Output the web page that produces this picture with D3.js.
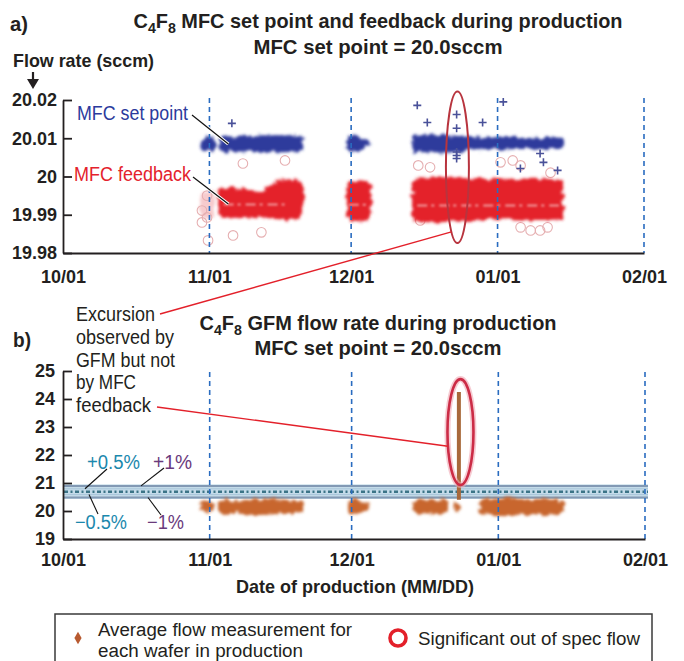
<!DOCTYPE html>
<html>
<head>
<meta charset="utf-8">
<script src="https://cdn.jsdelivr.net/npm/d3@7"></script>
<style>
  body { margin: 0; background: #fff; }
  svg { display: block; }
</style>
</head>
<body>
<div id="chart"></div>
<script>
// ---- data ----
var xTickDates = ["2010-10-01", "2010-11-01", "2010-12-01", "2011-01-01", "2011-02-01"];
var monthLines = ["2010-11-01", "2010-12-01", "2011-01-01", "2011-02-01"];
var topYTicks = [19.98, 19.99, 20, 20.01, 20.02];
var bottomYTicks = [19, 20, 21, 22, 23, 24, 25];

// MFC set point clouds: [date, low, high]
var setPointRuns = [
  [["2010-10-30 00", 20.0082, 20.0092], ["2010-10-30 12", 20.0068, 20.0103], ["2010-10-31 12", 20.0065, 20.0106],
   ["2010-11-01 12", 20.0067, 20.0104], ["2010-11-02 04", 20.0080, 20.0094]],
  [["2010-11-02 20", 20.0080, 20.0094], ["2010-11-03 12", 20.0066, 20.0104], ["2010-11-06 00", 20.0065, 20.0105],
   ["2010-11-09 00", 20.0066, 20.0104], ["2010-11-12 00", 20.0064, 20.0107], ["2010-11-15 00", 20.0063, 20.0108],
   ["2010-11-18 00", 20.0064, 20.0108], ["2010-11-20 06", 20.0067, 20.0105], ["2010-11-20 20", 20.0080, 20.0096]],
  [["2010-11-30 02", 20.0078, 20.0094], ["2010-11-30 16", 20.0063, 20.0107], ["2010-12-01 18", 20.0063, 20.0108],
   ["2010-12-03 00", 20.0069, 20.0102], ["2010-12-04 06", 20.0078, 20.0095], ["2010-12-05 08", 20.0084, 20.0089]],
  [["2010-12-13 22", 20.0078, 20.0096], ["2010-12-14 14", 20.0064, 20.0109], ["2010-12-18 00", 20.0063, 20.0109],
   ["2010-12-22 00", 20.0063, 20.0107], ["2010-12-26 00", 20.0067, 20.0105], ["2010-12-30 00", 20.0069, 20.0103],
   ["2011-01-03 00", 20.0071, 20.0102], ["2011-01-07 00", 20.0072, 20.0101], ["2011-01-11 00", 20.0072, 20.0101],
   ["2011-01-14 10", 20.0074, 20.0099], ["2011-01-14 22", 20.0082, 20.0091]]
];
// MFC feedback clouds: [date, low, high]
var feedbackRuns = [
  [["2010-11-02 20", 19.9915, 19.9955], ["2010-11-03 12", 19.9893, 19.9968], ["2010-11-06 00", 19.9890, 19.9972],
   ["2010-11-09 00", 19.9892, 19.9966], ["2010-11-11 12", 19.9894, 19.9962], ["2010-11-14 00", 19.9890, 19.9982],
   ["2010-11-17 00", 19.9887, 19.9990], ["2010-11-19 12", 19.9888, 19.9990], ["2010-11-20 20", 19.9905, 19.9975]],
  [["2010-11-30 02", 19.9895, 19.9975], ["2010-11-30 16", 19.9882, 19.9988], ["2010-12-02 12", 19.9882, 19.9990],
   ["2010-12-04 06", 19.9886, 19.9988], ["2010-12-05 08", 19.9915, 19.9975]],
  [["2010-12-13 22", 19.9900, 19.9980], ["2010-12-14 14", 19.9884, 19.9994], ["2010-12-18 00", 19.9880, 19.9998],
   ["2010-12-22 00", 19.9882, 19.9998], ["2010-12-26 00", 19.9884, 19.9995], ["2010-12-30 00", 19.9886, 19.9993],
   ["2011-01-03 00", 19.9888, 19.9992], ["2011-01-07 00", 19.9887, 19.9994], ["2011-01-11 00", 19.9886, 19.9994],
   ["2011-01-14 10", 19.9888, 19.9990], ["2011-01-14 22", 19.9905, 19.9975]]
];
var feedbackFaintRuns = [
  [["2010-10-30 00", 19.9905, 19.9945], ["2010-10-31 00", 19.9890, 19.9965], ["2010-11-02 00", 19.9892, 19.9960]]
];
// lighter seams inside the feedback clouds: [start, end, value]
var feedbackSeams = [
  ["2010-11-04 00", "2010-11-17 00", 19.9927],
  ["2010-11-30 12", "2010-12-04 18", 19.9926],
  ["2010-12-15 00", "2011-01-14 00", 19.9924]
];
var setPointOutliers = [
  ["2010-11-05 18", 20.0139], ["2010-12-15 00", 20.0186], ["2010-12-17 03", 20.0141],
  ["2010-12-23 08", 20.0162], ["2010-12-23 08", 20.0126], ["2010-12-28 20", 20.0141],
  ["2011-01-02 05", 20.0195], ["2011-01-05 20", 20.0021], ["2011-01-10 00", 20.0060],
  ["2011-01-10 17", 20.0037], ["2011-01-13 17", 20.0016],
  ["2010-12-23 08", 20.0064], ["2010-12-23 08", 20.0055], ["2010-12-23 08", 20.0047]
];
var feedbackOutliers = [
  ["2010-10-31 12", 19.9950], ["2010-10-30 10", 19.9911], ["2010-10-31 12", 19.9893],
  ["2010-10-30 10", 19.9880], ["2010-10-31 17", 19.9833], ["2010-11-08 02", 20.0034],
  ["2010-11-17 00", 20.0042], ["2010-11-06 00", 19.9846], ["2010-11-12 00", 19.9854],
  ["2010-12-15 05", 20.0029], ["2010-12-17 17", 20.0024], ["2011-01-01 15", 20.0037],
  ["2011-01-04 05", 20.0042], ["2011-01-05 21", 20.0029], ["2011-01-12 05", 20.0010],
  ["2011-01-05 21", 19.9867], ["2011-01-08 00", 19.9859], ["2011-01-10 00", 19.9859],
  ["2011-01-11 14", 19.9867], ["2010-12-15 15", 19.9885]
];
var excursionTop = ["2010-12-23 12", 19.9826, 20.0222];

// GFM average flow per wafer clouds: [date, low, high]
var gfmRuns = [
  [["2010-10-30 00", 20.05, 20.22], ["2010-10-31 00", 19.96, 20.37], ["2010-11-01 12", 20.00, 20.32], ["2010-11-02 00", 20.10, 20.18]],
  [["2010-11-02 18", 20.06, 20.27], ["2010-11-03 12", 19.92, 20.40], ["2010-11-07 00", 19.94, 20.37], ["2010-11-10 00", 19.90, 20.41],
   ["2010-11-13 00", 19.86, 20.43], ["2010-11-16 00", 19.89, 20.41], ["2010-11-19 00", 19.90, 20.39], ["2010-11-20 18", 20.03, 20.27]],
  [["2010-11-30 06", 19.98, 20.34], ["2010-12-01 12", 19.90, 20.43], ["2010-12-03 00", 19.95, 20.35], ["2010-12-04 12", 20.06, 20.24]],
  [["2010-12-14 00", 20.00, 20.30], ["2010-12-15 00", 19.89, 20.41], ["2010-12-18 00", 19.92, 20.39], ["2010-12-20 12", 19.91, 20.41],
   ["2010-12-21 12", 20.03, 20.27]],
  [["2010-12-22 12", 20.02, 20.22], ["2010-12-23 00", 19.96, 20.32], ["2010-12-23 20", 20.05, 20.20]],
  [["2010-12-28 00", 19.98, 20.34], ["2010-12-29 00", 19.87, 20.43], ["2011-01-02 00", 19.85, 20.45], ["2011-01-06 00", 19.87, 20.43],
   ["2011-01-10 00", 19.85, 20.43], ["2011-01-14 00", 19.89, 20.39], ["2011-01-15 00", 20.03, 20.27]]
];
var gfmSpike = ["2010-12-23 16", 20.40, 24.25];
var excursionBottom = ["2010-12-24 00", 20.93, 24.71];
var specCenter = 20.69;
var specLimits = [0.5, 1]; // percent

// ---- setup ----
var SANS = "'Liberation Sans Narrow','Arial Narrow','Liberation Sans',Arial,sans-serif";
var INK = "#231f20";
var parse = d3.timeParse("%Y-%m-%d %H");
function day(s) { return parse(s.length > 10 ? s : s + " 00"); }

var width = 684, height = 661;
var svg = d3.select("#chart").append("svg")
    .attr("width", width).attr("height", height)
    .style("font-family", SANS);
svg.append("rect").attr("width", width).attr("height", height).attr("fill", "#fff");

var defs = svg.append("defs");
function filter(id, sd, rough) {
  var f = defs.append("filter").attr("id", id).attr("filterUnits", "userSpaceOnUse")
      .attr("x", 0).attr("y", 0).attr("width", width).attr("height", height);
  if (rough) {
    f.append("feTurbulence").attr("type", "fractalNoise").attr("baseFrequency", 0.17)
        .attr("numOctaves", 2).attr("seed", 4).attr("result", "noise");
    f.append("feDisplacementMap").attr("in", "SourceGraphic").attr("in2", "noise")
        .attr("scale", rough).attr("xChannelSelector", "R").attr("yChannelSelector", "G").attr("result", "d");
    f.append("feGaussianBlur").attr("in", "d").attr("stdDeviation", sd);
  } else {
    f.append("feGaussianBlur").attr("stdDeviation", sd);
  }
}
filter("cloud", 1.4, 8);
filter("soft", 0.7);
filter("soft2", 1.1);

function cloud(x, y) {
  return d3.area().x(function(d) { return x(day(d[0])); })
      .y0(function(d) { return y(d[1]); }).y1(function(d) { return y(d[2]); })
      .curve(d3.curveMonotoneX);
}

function chemTitle(y, rest, len) {
  var t = svg.append("text").attr("x", 378).attr("y", y).attr("text-anchor", "middle")
      .attr("font-size", 21).attr("font-weight", "bold").attr("fill", INK)
      .attr("textLength", len).attr("lengthAdjust", "spacingAndGlyphs");
  t.append("tspan").text("C");
  t.append("tspan").attr("dy", 5).attr("font-size", 15).text("4");
  t.append("tspan").attr("dy", -5).text("F");
  t.append("tspan").attr("dy", 5).attr("font-size", 15).text("8");
  t.append("tspan").attr("dy", -5).text(rest);
}
function text(x, y, str, size, weight, color, len, anchor) {
  var t = svg.append("text").attr("x", x).attr("y", y).attr("font-size", size)
      .attr("font-weight", weight).attr("fill", color).attr("text-anchor", anchor || "start").text(str);
  if (len) t.attr("textLength", len).attr("lengthAdjust", "spacingAndGlyphs");
  return t;
}
function styleAxis(g, size) {
  g.selectAll("path, line").attr("stroke", INK).attr("stroke-width", 1.8);
  g.selectAll("text").attr("font-family", "'Liberation Sans',Arial,sans-serif")
      .attr("font-size", size).attr("font-weight", "bold").attr("fill", INK);
}
function plus(g, x, y, pts, color) {
  g.selectAll(null).data(pts).enter().append("path")
      .attr("d", function(d) {
        var cx = x(day(d[0])), cy = y(d[1]);
        return "M" + (cx - 4) + "," + cy + "H" + (cx + 4) + "M" + cx + "," + (cy - 4) + "V" + (cy + 4);
      })
      .attr("stroke", color).attr("stroke-width", 1.6).attr("fill", "none");
}

// ================= panel a =================
var xTop = d3.scaleTime().domain([day(xTickDates[0]), day(xTickDates[4])]).range([63, 644]);
var yTop = d3.scaleLinear().domain([19.98, 20.02]).range([253, 100]);

text(10, 31, "a)", 21, "bold", INK, 18);
chemTitle(28, " MFC set point and feedback during production", 489);
text(378, 54, "MFC set point = 20.0sccm", 21, "bold", INK, 249, "middle");
text(13, 67, "Flow rate (sccm)", 19, "bold", INK, 141);
svg.append("line").attr("x1", 33).attr("x2", 33).attr("y1", 72).attr("y2", 81)
    .attr("stroke", INK).attr("stroke-width", 2.2);
svg.append("path").attr("d", "M27,79L39,79L33,89Z").attr("fill", INK);

var gA = svg.append("g");
// faint early feedback
gA.append("g").attr("filter", "url(#cloud)").selectAll("path").data(feedbackFaintRuns).enter()
    .append("path").attr("d", cloud(xTop, yTop)).attr("fill", "#f0a0a4").attr("opacity", 0.55);
// outlier circles
gA.append("g").attr("filter", "url(#soft)").selectAll("circle").data(feedbackOutliers).enter()
    .append("circle").attr("cx", function(d) { return xTop(day(d[0])); }).attr("cy", function(d) { return yTop(d[1]); })
    .attr("r", 4.8).attr("fill", "none").attr("stroke", "#e6b0b2").attr("stroke-width", 1.1);
// feedback clouds
gA.append("g").attr("filter", "url(#cloud)").selectAll("path").data(feedbackRuns).enter()
    .append("path").attr("d", cloud(xTop, yTop)).attr("fill", "#e4222c");
gA.append("g").attr("filter", "url(#soft2)").selectAll("line").data(feedbackSeams).enter()
    .append("line").attr("x1", function(d) { return xTop(day(d[0])); }).attr("x2", function(d) { return xTop(day(d[1])); })
    .attr("y1", function(d) { return yTop(d[2]); }).attr("y2", function(d) { return yTop(d[2]); })
    .attr("stroke", "#f6b8ba").attr("stroke-width", 2).attr("stroke-dasharray", "10,4,3,5").attr("opacity", 0.8);
// set point clouds
gA.append("g").attr("filter", "url(#cloud)").selectAll("path").data(setPointRuns).enter()
    .append("path").attr("d", cloud(xTop, yTop)).attr("fill", "#2f3a9c");
var plusG = gA.append("g").attr("filter", "url(#soft)");
plus(plusG, xTop, yTop, setPointOutliers, "#4a5199");

// month dashed lines
gA.selectAll("line.month").data(monthLines).enter().append("line").attr("class", "month")
    .attr("x1", function(d) { return xTop(day(d)); }).attr("x2", function(d) { return xTop(day(d)); })
    .attr("y1", 98).attr("y2", 253)
    .attr("stroke", "#2a6cc0").attr("stroke-width", 1.6).attr("stroke-dasharray", "5,4");

// excursion ellipse (panel a)
var exA = { cx: xTop(day(excursionTop[0])), cy: (yTop(excursionTop[1]) + yTop(excursionTop[2])) / 2,
            ry: (yTop(excursionTop[1]) - yTop(excursionTop[2])) / 2, rx: 11.5 };
gA.append("ellipse").attr("cx", exA.cx).attr("cy", exA.cy).attr("rx", exA.rx).attr("ry", exA.ry)
    .attr("fill", "none").attr("stroke", "#b8343e").attr("stroke-width", 2);

// axes a
var axA = svg.append("g").attr("transform", "translate(63,0)")
    .call(d3.axisLeft(yTop).tickValues(topYTicks).tickSize(-9).tickSizeOuter(0).tickPadding(6)
      .tickFormat(function(d) { return d === 20 ? "20" : d3.format(".2f")(d); }));
styleAxis(axA, 18);
var axAx = svg.append("g").attr("transform", "translate(0,253)")
    .call(d3.axisBottom(xTop).tickValues(xTickDates.map(day)).tickSize(0).tickPadding(17)
      .tickFormat(d3.timeFormat("%m/%d")));
styleAxis(axAx, 18);

// series labels
text(77, 120, "MFC set point", 20, "normal", "#2b3a9c", 111);
text(74, 181, "MFC feedback", 20, "normal", "#e4222c", 117);
function leader(x1, y1, x2, y2) {
  svg.append("line").attr("x1", x1).attr("y1", y1).attr("x2", x2).attr("y2", y2)
      .attr("stroke", "#fff").attr("stroke-width", 3.2);
  svg.append("line").attr("x1", x1).attr("y1", y1).attr("x2", x2).attr("y2", y2)
      .attr("stroke", "#111").attr("stroke-width", 1.2);
}
leader(192, 115, xTop(day("2010-11-05 00")), yTop(20.0085));
leader(193, 177, xTop(day("2010-11-05 00")), yTop(19.9928));

// ================= panel b =================
var xBot = d3.scaleTime().domain([day(xTickDates[0]), day(xTickDates[4])]).range([63, 645]);
var yBot = d3.scaleLinear().domain([19, 25]).range([539, 371]);

text(13, 347, "b)", 21, "bold", INK, 18);
chemTitle(330, " GFM flow rate during production", 357);
text(378, 355, "MFC set point = 20.0sccm", 21, "bold", INK, 247, "middle");

var gB = svg.append("g");
// spec band
var hi1 = specCenter * (1 + specLimits[1] / 100), lo1 = specCenter * (1 - specLimits[1] / 100);
var hi05 = specCenter * (1 + specLimits[0] / 100), lo05 = specCenter * (1 - specLimits[0] / 100);
gB.append("rect").attr("x", xBot.range()[0]).attr("width", xBot.range()[1] - xBot.range()[0] + 3)
    .attr("y", yBot(hi1) - 1.5).attr("height", yBot(lo1) - yBot(hi1) + 3).attr("fill", "#c4dbe9");
[hi1, lo1].forEach(function(v) {
  gB.append("line").attr("x1", 63).attr("x2", 648).attr("y1", yBot(v)).attr("y2", yBot(v))
      .attr("stroke", "#8299b4").attr("stroke-width", 2);
});
[hi05, lo05].forEach(function(v) {
  gB.append("line").attr("x1", 63).attr("x2", 648).attr("y1", yBot(v)).attr("y2", yBot(v))
      .attr("stroke", "#a9c6da").attr("stroke-width", 1);
});
gB.append("line").attr("x1", 64).attr("x2", 648).attr("y1", yBot(specCenter)).attr("y2", yBot(specCenter))
    .attr("stroke", "#3b7487").attr("stroke-width", 2.6).attr("stroke-dasharray", "4,2.5,2,2.5");

// GFM clouds
gB.append("g").attr("filter", "url(#cloud)").selectAll("path").data(gfmRuns).enter()
    .append("path").attr("d", cloud(xBot, yBot)).attr("fill", "#c8662e");
gB.append("line").attr("filter", "url(#soft)")
    .attr("x1", xBot(day(gfmSpike[0]))).attr("x2", xBot(day(gfmSpike[0])))
    .attr("y1", yBot(gfmSpike[1])).attr("y2", yBot(gfmSpike[2]))
    .attr("stroke", "#a8683a").attr("stroke-width", 4);

gB.selectAll("line.month").data(monthLines).enter().append("line").attr("class", "month")
    .attr("x1", function(d) { return xBot(day(d)); }).attr("x2", function(d) { return xBot(day(d)); })
    .attr("y1", 372).attr("y2", 539)
    .attr("stroke", "#2a6cc0").attr("stroke-width", 1.6).attr("stroke-dasharray", "5,4");

var exB = { cx: xBot(day(excursionBottom[0])), cy: (yBot(excursionBottom[1]) + yBot(excursionBottom[2])) / 2,
            ry: (yBot(excursionBottom[1]) - yBot(excursionBottom[2])) / 2, rx: 13 };
gB.append("ellipse").attr("cx", exB.cx).attr("cy", exB.cy).attr("rx", exB.rx).attr("ry", exB.ry)
    .attr("fill", "none").attr("stroke", "#f0a8b4").attr("stroke-width", 6).attr("opacity", 0.6);
gB.append("ellipse").attr("cx", exB.cx).attr("cy", exB.cy).attr("rx", exB.rx).attr("ry", exB.ry)
    .attr("fill", "none").attr("stroke", "#cc2c46").attr("stroke-width", 2.6);

// axes b
var axB = svg.append("g").attr("transform", "translate(63,0)")
    .call(d3.axisLeft(yBot).tickValues(bottomYTicks).tickSize(-9).tickSizeOuter(0).tickPadding(8)
      .tickFormat(d3.format("d")));
styleAxis(axB, 18);
var axBx = svg.append("g").attr("transform", "translate(0,539)")
    .call(d3.axisBottom(xBot).tickValues(xTickDates.map(day)).tickSize(0).tickPadding(14)
      .tickFormat(d3.timeFormat("%m/%d")));
styleAxis(axBx, 18);
text(355, 593, "Date of production (MM/DD)", 19, "bold", INK, 238, "middle");

// spec labels
text(87, 469, "+0.5%", 20, "normal", "#1b88ad", 53);
text(153, 469, "+1%", 20, "normal", "#6a3a7c", 39);
text(75, 529, "\u22120.5%", 20, "normal", "#1b88ad", 52);
text(147, 529, "\u22121%", 20, "normal", "#6a3a7c", 37);
[[107, 469, 85, yBot(hi05)], [164, 468, 141, yBot(hi1)], [98, 514, 89, yBot(lo05)], [161, 515, 148, yBot(lo1)]]
  .forEach(function(l) {
    svg.append("line").attr("x1", l[0]).attr("y1", l[1]).attr("x2", l[2]).attr("y2", l[3])
        .attr("stroke", "#111").attr("stroke-width", 1.1);
  });

// excursion annotation
var noteLines = ["Excursion", "observed by", "GFM but not", "by MFC", "feedback"];
var noteLens = [79, 98, 99, 60, 75];
noteLines.forEach(function(s, i) { text(76, 321 + i * 22.8, s, 20, "normal", INK, noteLens[i]); });
function onEllipse(e, t) { return [e.cx - e.rx * Math.sin(t), e.cy + e.ry * Math.cos(t)]; }
var pA = onEllipse(exA, 0.55), pB = onEllipse(exB, 1.3);
svg.append("line").attr("x1", 160).attr("y1", 314).attr("x2", pA[0]).attr("y2", pA[1])
    .attr("stroke", "#e3202a").attr("stroke-width", 1.4);
svg.append("line").attr("x1", 157).attr("y1", 407).attr("x2", pB[0]).attr("y2", pB[1])
    .attr("stroke", "#e3202a").attr("stroke-width", 1.4);

// legend
svg.append("rect").attr("x", 55).attr("y", 614).attr("width", 597).attr("height", 70)
    .attr("fill", "none").attr("stroke", "#3a3a3a").attr("stroke-width", 1.5);
svg.append("path").attr("d", d3.symbol(d3.symbolDiamond, 45)).attr("transform", "translate(78,638)")
    .attr("fill", "#b85a30");
text(98, 636, "Average flow measurement for", 18, "normal", INK, 254);
text(98, 657, "each wafer in production", 18, "normal", INK, 205);
svg.append("circle").attr("cx", 398).attr("cy", 638).attr("r", 8).attr("fill", "none")
    .attr("stroke", "#e3202a").attr("stroke-width", 3.6);
text(418, 645, "Significant out of spec flow", 19, "normal", INK, 222);
</script>
</body>
</html>
